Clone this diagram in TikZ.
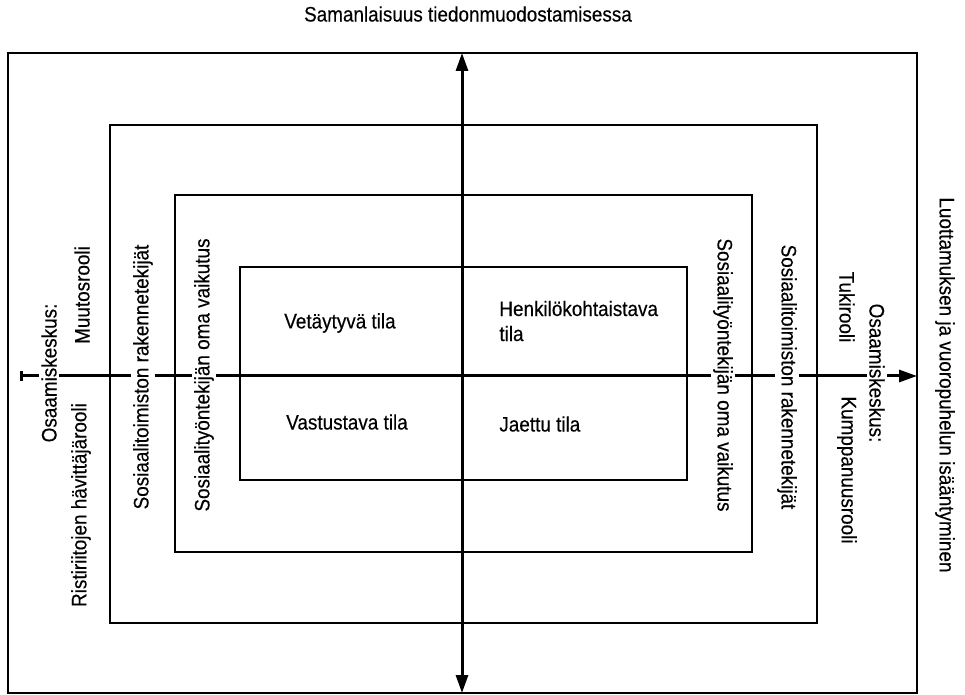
\documentclass[tikz,border=0pt]{standalone}
\usepackage{fontspec}
\setmainfont{Liberation Sans}[FakeStretch=0.9, FakeBold=0.3]
\usetikzlibrary{arrows.meta}

\begin{document}
\begin{tikzpicture}[x=0.5pt, y=-0.5pt, font=\fontsize{10.5}{12.5}\selectfont,
    kehys/.style={draw, line width=0.75pt},
    akseli/.style={line width=1.5pt, >={Triangle[length=9pt, width=6pt]}},
    ylos/.style={rotate=90, fill=white, inner sep=1pt},
    alas/.style={rotate=-90, fill=white, inner sep=1pt},
    tila/.style={align=left, inner sep=0pt}]
    \useasboundingbox (0,0) rectangle (965,695);
    % kehykset
    \draw[kehys] (8,53) rectangle (917,693);
    \draw[kehys] (110,125) rectangle (817,623);
    \draw[kehys] (175,195) rectangle (752,552);
    \draw[kehys] (240,267) rectangle (687,480);
    % akselien päät
    \coordinate (ylh) at (462,53);
    \coordinate (alh) at (462,693);
    \coordinate (vas) at (20,376);
    \coordinate (oik) at (917,376);
    \draw[akseli, <->] (ylh) -- (alh);
    \draw[akseli, {Bar[width=5pt]}->] (vas) -- (oik);
    % otsikot
    \node (otsikko) at (468,14) {Samanlaisuus tiedonmuodostamisessa};
    \node (luottamus) [rotate=-90] at (945,385) {Luottamuksen ja vuoropuhelun isääntyminen};
    % vasen puoli
    \node (okv) [ylos] at (49,373) {Osaamiskeskus:};
    \node (muutos) [rotate=90] at (82,295) {Muutosrooli};
    \node (ristiriita) [rotate=90] at (81,505) {Ristiriitojen hävittäjärooli};
    \node (rakv) [ylos] at (143,377) {Sosiaalitoimiston rakennetekijät};
    \node (omav) [ylos] at (204,375) {Sosiaalityöntekijän oma vaikutus};
    % oikea puoli
    \node (omao) [alas] at (723,375) {Sosiaalityöntekijän oma vaikutus};
    \node (rako) [alas] at (787,377) {Sosiaalitoimiston rakennetekijät};
    \node (tuki) [rotate=-90] at (847,307) {Tukirooli};
    \node (oko) [alas] at (877,373) {Osaamiskeskus:};
    \node (kumppani) [rotate=-90] at (847,470) {Kumppanuusrooli};
    % tilat
    \node (vetaytyva) [tila] at (340,323) {Vetäytyvä tila};
    \node (henkilo) [tila, anchor=west] at (499,321) {Henkilökohtaistava\\tila};
    \node (vastustava) [tila] at (347,422) {Vastustava tila};
    \node (jaettu) [tila, anchor=west] at (499,424) {Jaettu tila};
\end{tikzpicture}
\end{document}
